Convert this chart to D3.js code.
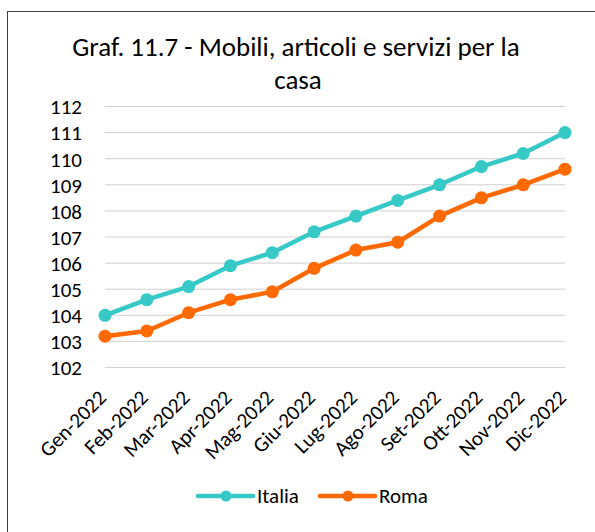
<!DOCTYPE html>
<html>
<head>
<meta charset="utf-8">
<script src="https://cdn.jsdelivr.net/npm/d3@7"></script>
<style>
  body { margin: 0; background: #fff; }
  text { font-family: Carlito, "Open Sans", "Liberation Sans", sans-serif; fill: #000; }
</style>
</head>
<body>
<div id="chart"></div>
<script>
const months = ['Gen-2022', 'Feb-2022', 'Mar-2022', 'Apr-2022', 'Mag-2022', 'Giu-2022',
	'Lug-2022', 'Ago-2022', 'Set-2022', 'Ott-2022', 'Nov-2022', 'Dic-2022'];
const italia = [104.0, 104.6, 105.1, 105.9, 106.4, 107.2, 107.8, 108.4, 109.0, 109.7, 110.2, 111.0];
const roma = [103.2, 103.4, 104.1, 104.6, 104.9, 105.8, 106.5, 106.8, 107.8, 108.5, 109.0, 109.6];
const yTicks = [102, 103, 104, 105, 106, 107, 108, 109, 110, 111, 112];

const series = [
	{ name: 'Italia', values: italia, color: '#36c9c6' },
	{ name: 'Roma', values: roma, color: '#ff6a00' }
];

const width = 595, height = 532;
const svg = d3.select('#chart').append('svg')
	.attr('width', width)
	.attr('height', height);

// outer frame (runs off right and bottom)
svg.append('rect')
	.attr('x', 7.5).attr('y', 11.5)
	.attr('width', 600).attr('height', 600)
	.attr('fill', 'none')
	.attr('stroke', '#404040')
	.attr('stroke-width', 1);

svg.append('text')
	.attr('x', 296).attr('y', 56)
	.attr('text-anchor', 'middle')
	.style('font-size', '27px')
	.text('Graf. 11.7 - Mobili, articoli e servizi per la');
svg.append('text')
	.attr('x', 298).attr('y', 89)
	.attr('text-anchor', 'middle')
	.style('font-size', '27px')
	.text('casa');

const x = d3.scalePoint().domain(months).range([105, 565]);
const y = d3.scaleLinear().domain([102, 112]).range([367.5, 106.5]);

// gridlines
svg.append('g')
	.selectAll('line')
	.data(yTicks)
	.join('line')
		.attr('x1', 105).attr('x2', 565)
		.attr('y1', d => y(d)).attr('y2', d => y(d))
		.attr('stroke', '#d0d0d0')
		.attr('stroke-width', 1);

// y axis labels
const axisY = d3.axisLeft(y).tickValues(yTicks).tickSize(0).tickPadding(0);
svg.append('g')
	.attr('transform', 'translate(82,0)')
	.call(axisY)
	.call(g => g.select('.domain').remove())
	.call(g => g.selectAll('text')
		.style('font-size', '21px')
		.attr('dy', '0.35em'));

// x axis labels
const axisX = d3.axisBottom(x).tickSize(0).tickPadding(0);
svg.append('g')
	.attr('transform', 'translate(0,384)')
	.call(axisX)
	.call(g => g.select('.domain').remove())
	.call(g => g.selectAll('text')
		.style('font-size', '21px')
		.attr('text-anchor', 'end')
		.attr('dy', '0')
		.attr('transform', 'translate(2,15) rotate(-45)'));

const line = d3.line()
	.x((d, i) => x(months[i]))
	.y(d => y(d));

series.forEach(s => {
	const g = svg.append('g');
	g.append('path')
		.datum(s.values)
		.attr('d', line)
		.attr('fill', 'none')
		.attr('stroke', s.color)
		.attr('stroke-width', 4.5)
		.attr('stroke-linejoin', 'round');
	g.selectAll('circle')
		.data(s.values)
		.join('circle')
			.attr('cx', (d, i) => x(months[i]))
			.attr('cy', d => y(d))
			.attr('r', 6.5)
			.attr('fill', s.color);
});

// legend
const legend = svg.append('g').attr('transform', 'translate(198,496)');
const legendX = [0, 122];
series.forEach((s, i) => {
	const lg = legend.append('g').attr('transform', `translate(${legendX[i]},0)`);
	lg.append('line')
		.attr('x1', 0).attr('x2', 55)
		.attr('stroke', s.color)
		.attr('stroke-width', 4.5)
		.attr('stroke-linecap', 'round');
	lg.append('circle')
		.attr('cx', 28).attr('r', 5.5)
		.attr('fill', s.color);
	lg.append('text')
		.attr('x', 59).attr('y', 0)
		.attr('dy', '0.35em')
		.style('font-size', '21px')
		.text(s.name);
});
</script>
</body>
</html>
